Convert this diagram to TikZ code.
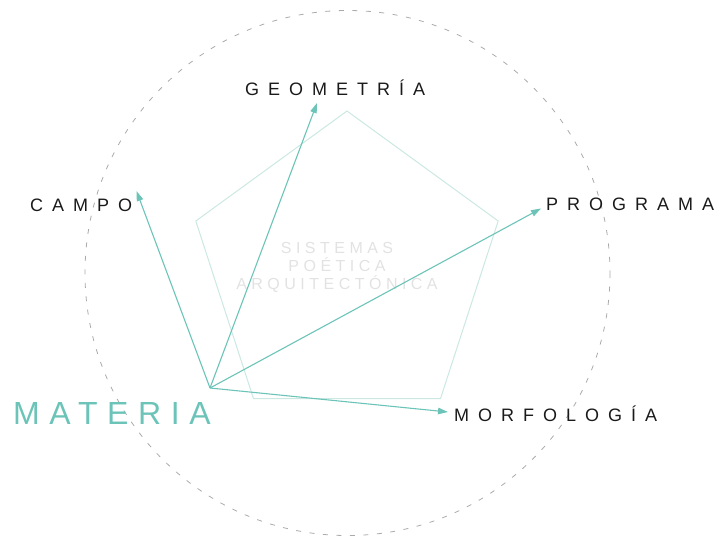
\documentclass[tikz,border=0pt]{standalone}
\usepackage{fontspec}
\setmainfont{Liberation Sans}
\newfontfamily\lblfont[LetterSpace=50]{Liberation Sans}
\newfontfamily\matfont[LetterSpace=30]{Liberation Sans}
\newfontfamily\sysfont[LetterSpace=28]{Liberation Sans}
\usetikzlibrary{arrows.meta}
\definecolor{teal1}{HTML}{6CC4B8}
\definecolor{teallight}{HTML}{CBE8E2}
\definecolor{sysgrey}{HTML}{E2E2E2}
\definecolor{circgrey}{HTML}{AAAAAA}
\definecolor{lbl}{HTML}{1A1A1A}
\begin{document}
\begin{tikzpicture}[x=1pt,y=-1pt,
  lab/.style={inner sep=0pt,text=lbl,font=\fontsize{18}{18}\lblfont},
  ray/.style={draw=teal1,line width=1.1pt,-{Triangle[length=10pt,width=6.5pt]}},
  pent/.style={draw=teallight,line width=1pt},
  circ/.style={draw=circgrey,line width=0.8pt,dash pattern=on 5pt off 8.5pt}]
\useasboundingbox (0,0) rectangle (723,542);
% circle
\draw[circ] (347.5,273) circle[radius=262.5];
% pentagon
\coordinate (p1) at (347,111);
\coordinate (p2) at (498.2,221);
\coordinate (p3) at (440.5,398.6);
\coordinate (p4) at (253.5,398.6);
\coordinate (p5) at (195.8,221);
\draw[pent] (p1) -- (p2) -- (p3) -- (p4) -- (p5) -- cycle;
% center text
\node[align=center,text=sysgrey,font=\fontsize{16}{18}\sysfont,inner sep=0pt] (sys) at (337,267)
  {SISTEMAS\\POÉTICA\\ARQUITECTÓNICA};
% labels
\node[lab,anchor=west] (geo) at (245,88) {GEOMETRÍA};
\node[lab,anchor=west] (campo) at (30,205) {CAMPO};
\node[lab,anchor=west] (prog) at (546,204) {PROGRAMA};
\node[lab,anchor=west] (morf) at (454,414) {MORFOLOGÍA};
\node[inner sep=0pt,anchor=west,text=teal1,font=\fontsize{32}{32}\matfont] (mat) at (13,413) {MATERIA};
% rays
\coordinate (o) at (210,388);
\coordinate (tgeo) at (317,103);
\coordinate (tcampo) at (136.5,191);
\coordinate (tprog) at (541,208.5);
\coordinate (tmorf) at (448,412);
\draw[ray] (o) -- (tgeo);
\draw[ray] (o) -- (tcampo);
\draw[ray] (o) -- (tprog);
\draw[ray] (o) -- (tmorf);
\end{tikzpicture}
\end{document}
